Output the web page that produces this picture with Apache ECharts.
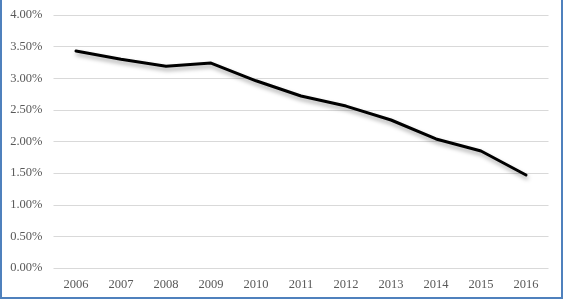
<!DOCTYPE html>
<html>
<head>
<meta charset="utf-8">
<script src="https://cdn.jsdelivr.net/npm/echarts@6/dist/echarts.min.js"></script>
<style>
html,body{margin:0;padding:0;background:#fff;}
#frame{position:absolute;left:0;top:0;width:559px;height:297px;border-left:2px solid #4f81bd;border-right:2px solid #4f81bd;border-bottom:2px solid #4f81bd;}
#chart{position:absolute;left:-2px;top:0;width:563px;height:299px;}
</style>
</head>
<body>
<div id="frame"><div id="chart"></div></div>
<script>
const years = ['2006','2007','2008','2009','2010','2011','2012','2013','2014','2015','2016'];
const rates = [3.43, 3.30, 3.19, 3.24, 2.96, 2.72, 2.56, 2.34, 2.04, 1.85, 1.47];
const yMin = 0, yMax = 4, yStep = 0.5;

const chart = echarts.init(document.getElementById('chart'), null, {renderer:'canvas'});
const font = {fontFamily:'"Liberation Serif", serif', fontSize:12.5, color:'#595959'};
chart.setOption({
  animation:false,
  grid:{left:53.5, right:14.5, top:15, bottom:31, containLabel:false},
  xAxis:{
    type:'category', data:years, boundaryGap:true,
    axisLine:{show:false}, axisTick:{show:false},
    axisLabel:Object.assign({margin:10}, font)
  },
  yAxis:{
    type:'value', min:yMin, max:yMax, interval:yStep,
    axisLine:{show:false}, axisTick:{show:false},
    splitLine:{lineStyle:{color:'#d9d9d9', width:1}},
    axisLabel:Object.assign({margin:11, formatter:v=>v.toFixed(2)+'%'}, font)
  },
  series:[{
    type:'line', data:rates, symbol:'none', smooth:false,
    lineStyle:{color:'#000', width:3, shadowColor:'rgba(0,0,0,0.35)', shadowBlur:4, shadowOffsetX:1, shadowOffsetY:3, cap:'round', join:'round'}
  }]
});
</script>
</body>
</html>
